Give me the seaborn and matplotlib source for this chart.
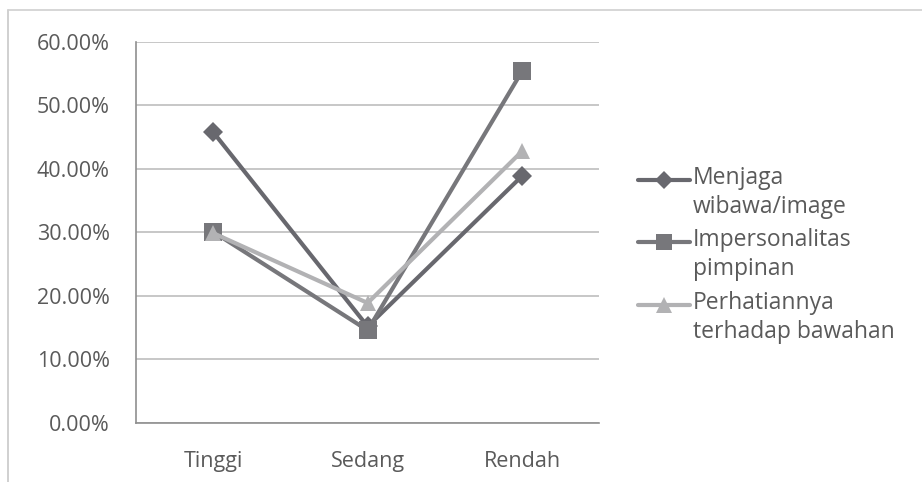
import matplotlib
matplotlib.use("Agg")
import matplotlib.pyplot as plt
from matplotlib.lines import Line2D
from matplotlib.ticker import FuncFormatter, MultipleLocator
import pandas as pd
import seaborn as sns

# Data
categories = ["Tinggi", "Sedang", "Rendah"]
menjaga = [45.8, 15.2, 38.9]
impersonalitas = [30.1, 14.6, 55.4]
perhatian = [29.9, 18.9, 42.8]
series_names = ["Menjaga\nwibawa/image", "Impersonalitas\npimpinan", "Perhatiannya\nterhadap bawahan"]

df = pd.DataFrame({
    "kategori": categories * 3,
    "nilai": menjaga + impersonalitas + perhatian,
    "seri": [series_names[0]] * 3 + [series_names[1]] * 3 + [series_names[2]] * 3,
})

sns.set_theme(style="white")
plt.rcParams["font.family"] = ["Open Sans", "DejaVu Sans"]

text_color = "#5a5a5a"
font_size = 15.5
legend_font_size = 16.5
colors = {series_names[0]: "#68686e", series_names[1]: "#77777b", series_names[2]: "#b2b2b4"}
markers = {series_names[0]: "D", series_names[1]: "s", series_names[2]: "^"}
msizes = {series_names[0]: 10, series_names[1]: 13, series_names[2]: 12}

fig = plt.figure(figsize=(9.22, 4.82), dpi=100)
fig.patch.set_facecolor("white")
ax = fig.add_axes([0.1475, 0.1224, 0.5025, 0.7905])

# chart frame
fig.add_artist(Line2D([8 / 922, 8 / 922], [0, 1 - 10 / 482], transform=fig.transFigure,
                      color="#c8c8c8", lw=1.2))
fig.add_artist(Line2D([8 / 922, 1], [1 - 10 / 482, 1 - 10 / 482], transform=fig.transFigure,
                      color="#d0d0d0", lw=1.2))

ax.yaxis.grid(True, color="#bdbdbd", lw=1.2)
ax.set_axisbelow(True)

for name in series_names:
    sub = df[df["seri"] == name]
    sns.lineplot(data=sub, x="kategori", y="nilai", ax=ax, color=colors[name],
                 marker=markers[name], markersize=msizes[name], markeredgewidth=0,
                 lw=3, sort=False, legend=False)

ax.set_xlim(-0.5, 2.5)
ax.set_ylim(0, 60)
ax.yaxis.set_major_locator(MultipleLocator(10))
ax.yaxis.set_major_formatter(FuncFormatter(lambda v, p: f"{v:.2f}%"))
ax.set_xlabel("")
ax.set_ylabel("")
ax.tick_params(axis="both", length=0, labelsize=font_size, colors=text_color)
ax.tick_params(axis="y", pad=19)
ax.tick_params(axis="x", pad=20)

for s in ["top", "right"]:
    ax.spines[s].set_visible(False)
for s in ["left", "bottom"]:
    ax.spines[s].set_color("#8f8f8f")
    ax.spines[s].set_linewidth(1.2)

# Legend: key aligned with the first line of each two-line label
entry_tops = [180, 242, 305]
for name, y_px in zip(series_names, entry_tops):
    yf = 1 - y_px / 482
    fig.add_artist(Line2D([638 / 922, 690 / 922], [yf, yf], transform=fig.transFigure,
                          color=colors[name], lw=3))
    fig.add_artist(Line2D([664 / 922], [yf], transform=fig.transFigure,
                          color=colors[name], marker=markers[name],
                          markersize=msizes[name] - 1, markeredgewidth=0, lw=0))
    fig.text(693 / 922, yf + 14 / 482, name, transform=fig.transFigure, ha="left", va="top",
             fontsize=legend_font_size, color=text_color, linespacing=1.3)

fig.savefig("out.png", dpi=100, facecolor="white")
